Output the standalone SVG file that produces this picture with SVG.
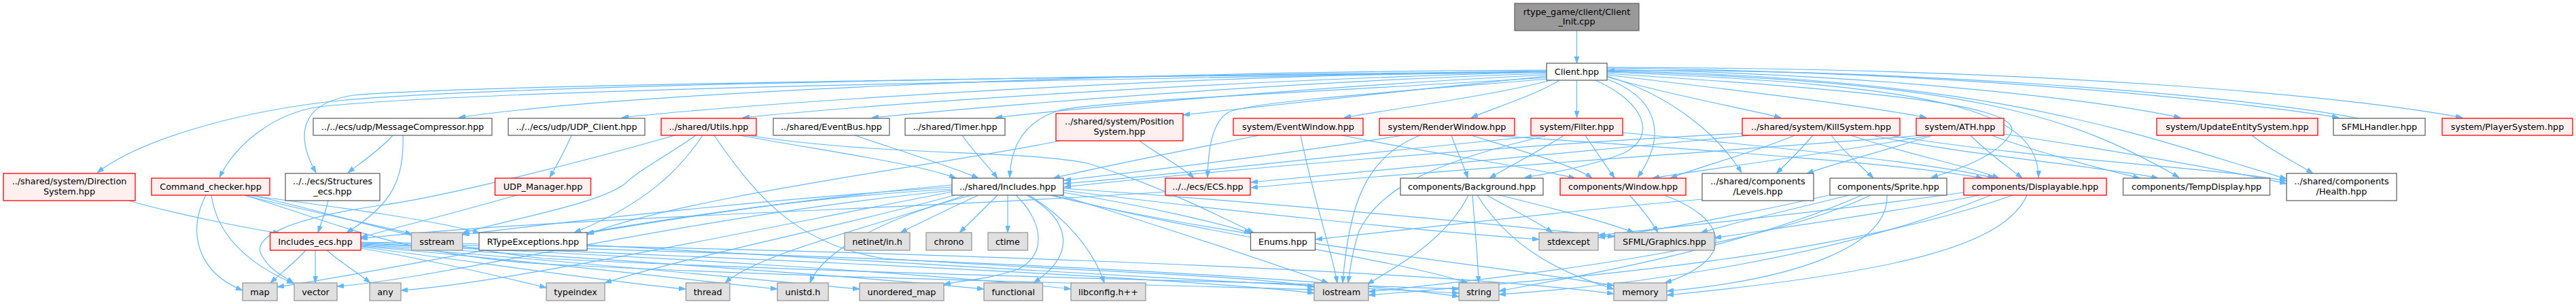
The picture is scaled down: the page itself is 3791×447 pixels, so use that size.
<svg xmlns="http://www.w3.org/2000/svg" width="3791" height="447" viewBox="0 0 3791 447">
<style>
.r{fill:#FFF0F0;stroke:#FF0000;stroke-width:1.3}
.w{fill:#FFFFFF;stroke:#666666;stroke-width:1.3}
.g{fill:#E0E0E0;stroke:#999999;stroke-width:1.3}
.k{fill:#999999;stroke:#666666;stroke-width:1.3}
text{font-family:"DejaVu Sans","Liberation Sans",sans-serif;font-size:12.8px;fill:#000;text-anchor:middle}
#edges path{fill:none;stroke:#63B8FF;stroke-width:1.2;marker-end:url(#ah)}
</style>
<defs>
<marker id="ah" viewBox="0 0 10 7" markerWidth="10" markerHeight="7" refX="10" refY="3.5" orient="auto" markerUnits="userSpaceOnUse">
<path d="M0,0 L10,3.5 L0,7 Z" fill="#63B8FF" stroke="#63B8FF" stroke-width="0.8"/>
</marker>
</defs>
<rect width="3791" height="447" fill="#FFFFFF"/>
<g id="edges">
<path d="M2320.5,45 L2320.5,93"/>
<path d="M2276,105 C1600,112 700,125 480,150 C330,168 200,210 143,254"/>
<path d="M2276,106 C1600,116 700,132 470,157 C400,167 345,215 323,261"/>
<path d="M2276,106 C1600,113 700,124 520,140 C440,152 435,200 465,254"/>
<path d="M2276,103 C1600,106 900,138 675,173"/>
<path d="M2276,104 C1700,112 1100,152 915,173"/>
<path d="M2276,106 C1800,118 1300,152 1093,173"/>
<path d="M2276,108 C1900,120 1500,152 1283,173"/>
<path d="M2276,110 C2000,124 1650,152 1465,173"/>
<path d="M2276,112 C2100,130 1900,152 1741,169"/>
<path d="M2276,114 C1950,135 1620,148 1560,162 C1500,180 1487,225 1486,261"/>
<path d="M2278,116 C2050,135 1840,150 1808,165 C1782,180 1778,225 1777,261"/>
<path d="M2282,118 C2200,140 2050,160 1978,173"/>
<path d="M2295,118 C2260,140 2200,158 2165,173"/>
<path d="M2320.5,118 L2320.5,173"/>
<path d="M2348,118 C2420,150 2440,200 2390,225 C2340,245 2280,255 2244,261"/>
<path d="M2364,116 C2430,140 2460,190 2410,261"/>
<path d="M2365,112 C2460,140 2530,200 2563,254"/>
<path d="M2365,108 C2700,130 2980,150 2960,195 C2940,230 2880,250 2842,261"/>
<path d="M2365,106 C2850,125 3000,160 3000,261"/>
<path d="M2365,113 C2450,138 2560,158 2621,173"/>
<path d="M2365,110 C2550,132 2750,156 2835,173"/>
<path d="M2365,105 C2900,120 3050,170 3207,261"/>
<path d="M2365,104 C2950,115 3150,200 3365,263"/>
<path d="M2365,102 C2800,110 3100,150 3209,173"/>
<path d="M2365,100 C2900,106 3300,150 3442,173"/>
<path d="M3471,174 C3300,140 2800,100 2366,104"/>
<path d="M2365,99 C3000,100 3450,140 3624,173"/>
<path d="M578,199 C560,220 530,240 512,254"/>
<path d="M593,199 C595,260 580,300 510,342"/>
<path d="M841,199 C830,225 818,245 809,261"/>
<path d="M760,287 C700,305 600,330 531,349"/>
<path d="M993,199 C850,240 650,290 560,302 C420,322 370,350 385,375 C395,395 415,405 432,416"/>
<path d="M1024,199 C980,230 940,250 920,270 C880,300 760,320 680,343"/>
<path d="M1034,199 C1000,250 950,300 845,342"/>
<path d="M1089,199 C1200,220 1350,240 1407,262"/>
<path d="M1051,199 C1120,300 1180,360 1300,380 C1600,400 1850,405 1934,422"/>
<path d="M1100,199 C1300,230 1500,220 1600,240 C1700,270 1800,320 1845,342"/>
<path d="M1258,199 C1320,220 1400,245 1440,262"/>
<path d="M1416,199 C1430,220 1455,245 1468,262"/>
<path d="M1677,207 C1700,225 1740,245 1757,262"/>
<path d="M1560,207 C1400,240 1000,290 864,345"/>
<path d="M1853,199 C1750,220 1620,245 1550,262"/>
<path d="M1975,199 C2100,225 2250,245 2318,262"/>
<path d="M1914,199 C1935,300 1960,370 1968,416"/>
<path d="M2065,199 C1900,225 1700,250 1566,265"/>
<path d="M2136,199 C2145,225 2155,245 2160,262"/>
<path d="M2165,199 C2250,225 2320,245 2343,262"/>
<path d="M2090,199 C2010,230 1985,300 1976,416"/>
<path d="M2192,199 C2500,220 2800,240 2918,262"/>
<path d="M2275,199 C2000,225 1750,255 1566,270"/>
<path d="M2302,199 C2260,225 2220,245 2192,262"/>
<path d="M2333,199 C2350,225 2365,245 2376,262"/>
<path d="M2278,199 C2100,240 2030,280 2000,340 C1990,370 1986,400 1984,416"/>
<path d="M2388,195 C2600,215 2850,240 2935,262"/>
<path d="M2565,196 C2200,215 1800,250 1566,275"/>
<path d="M2575,199 C2300,225 2000,255 1841,268"/>
<path d="M2641,199 C2580,225 2500,245 2458,262"/>
<path d="M2668,199 C2650,220 2630,240 2614,255"/>
<path d="M2695,199 C2715,225 2740,245 2757,262"/>
<path d="M2724,199 C2800,225 2900,245 2942,262"/>
<path d="M2755,199 C2900,230 3100,245 3176,262"/>
<path d="M2780,199 C3000,235 3250,245 3365,266"/>
<path d="M2844,199 C2780,220 2700,240 2659,255"/>
<path d="M2840,199 C2700,225 2500,250 2432,262"/>
<path d="M2830,199 C2500,225 2050,255 1841,276"/>
<path d="M2900,199 C2925,225 2955,245 2976,262"/>
<path d="M2931,199 C3000,225 3100,250 3149,262"/>
<path d="M2949,197 C3100,220 3250,245 3365,270"/>
<path d="M3314,199 C3340,220 3380,240 3404,255"/>
<path d="M189,295 C260,315 360,335 412,343"/>
<path d="M303,287 C275,340 290,400 357,427"/>
<path d="M311,287 C320,350 370,390 432,417"/>
<path d="M359,287 C450,310 550,330 606,344"/>
<path d="M365,287 C500,305 650,325 706,343"/>
<path d="M360,287 C500,330 580,370 780,387 C1200,410 1700,418 1934,426"/>
<path d="M370,287 C520,320 620,360 800,380 C1300,405 1900,415 2147,425"/>
<path d="M483,295 C478,315 472,330 468,342"/>
<path d="M1440,287 C1400,305 1360,325 1325,342"/>
<path d="M1468,287 C1450,305 1430,325 1412,342"/>
<path d="M1483,287 L1483,342"/>
<path d="M1495,287 C1530,320 1545,370 1500,395 C1460,410 1420,412 1389,418"/>
<path d="M1511,287 C1570,320 1590,370 1521,416"/>
<path d="M1514,287 C1570,320 1610,370 1625,416"/>
<path d="M1401,272 C1200,290 1000,320 864,343"/>
<path d="M1401,275 C1100,295 800,330 681,345"/>
<path d="M1401,278 C1000,300 600,395 408,422"/>
<path d="M1401,280 C1000,320 650,410 496,421"/>
<path d="M1401,282 C1100,340 750,415 590,427"/>
<path d="M1405,287 C1250,330 1000,380 890,416"/>
<path d="M1420,287 C1300,330 1120,370 1067,416"/>
<path d="M1430,287 C1300,320 1210,370 1192,416"/>
<path d="M1565,283 C1700,305 1800,330 1841,343"/>
<path d="M1560,287 C1700,330 1850,380 1955,416"/>
<path d="M1550,287 C1750,340 2050,380 2160,416"/>
<path d="M1545,287 C1800,350 2200,390 2375,420"/>
<path d="M1565,280 C1800,310 2100,340 2265,352"/>
<path d="M1565,277 C1900,300 2200,330 2376,348"/>
<path d="M1715,282 C1400,305 800,320 531,351"/>
<path d="M2161,287 C2130,350 2060,390 2012,418"/>
<path d="M2167,287 C2170,330 2175,380 2176,416"/>
<path d="M2174,287 C2220,360 2290,400 2375,425"/>
<path d="M2188,287 C2220,305 2260,325 2285,342"/>
<path d="M2207,287 C2280,305 2360,325 2405,342"/>
<path d="M2398,287 C2415,305 2430,325 2440,342"/>
<path d="M2449,287 C2540,320 2560,380 2450,416"/>
<path d="M2505,293 C2300,310 2100,335 1936,352"/>
<path d="M2721,287 C2650,305 2560,325 2503,342"/>
<path d="M2777,287 C2780,360 2650,410 2453,428"/>
<path d="M2753,287 C2600,360 2300,400 2014,429"/>
<path d="M2740,287 C2550,370 2300,410 2206,428"/>
<path d="M2700,285 C2550,320 2400,345 2352,349"/>
<path d="M2913,287 C2800,310 2620,335 2523,350"/>
<path d="M2983,287 C2950,360 2800,400 2453,434"/>
<path d="M2962,287 C2700,380 2300,410 2014,434"/>
<path d="M2930,287 C2700,380 2400,420 2206,433"/>
<path d="M2890,283 C2700,310 2450,335 2352,346"/>
<path d="M864,360 C1200,380 1700,410 2147,431"/>
<path d="M450,368 C435,385 415,400 398,416"/>
<path d="M464,368 L464,416"/>
<path d="M481,368 C500,385 525,400 545,416"/>
<path d="M531,365 C650,385 750,410 804,423"/>
<path d="M531,363 C700,385 900,415 1009,425"/>
<path d="M531,362 C800,385 1000,410 1144,425"/>
<path d="M531,361 C800,380 1100,410 1265,425"/>
<path d="M531,360 C900,380 1300,410 1448,425"/>
<path d="M531,359 C950,375 1400,405 1576,425"/>
<path d="M531,358 C1000,375 1700,405 1934,431"/>
<path d="M531,357 C1100,370 1900,400 2147,436"/>
<path d="M531,356 C1200,365 2100,395 2375,432"/>
</g>
<g id="n_root"><rect class="k" x="2229" y="5" width="183" height="40"/><text x="2320.5" y="21.5">rtype_game/client/Client</text><text x="2320.5" y="36">_Init.cpp</text></g>
<g id="n_client"><rect class="w" x="2276" y="93" width="89" height="25"/><text x="2320.5" y="110">Client.hpp</text></g>
<g id="n_msgcomp"><rect class="w" x="461" y="174" width="263" height="25"/><text x="592.5" y="191">../../ecs/udp/MessageCompressor.hpp</text></g>
<g id="n_udpclient"><rect class="w" x="748" y="174" width="201" height="25"/><text x="848.5" y="191">../../ecs/udp/UDP_Client.hpp</text></g>
<g id="n_utils"><rect class="r" x="973" y="174" width="140" height="25"/><text x="1043" y="191">../shared/Utils.hpp</text></g>
<g id="n_eventbus"><rect class="w" x="1138" y="174" width="171" height="25"/><text x="1223.5" y="191">../shared/EventBus.hpp</text></g>
<g id="n_timer"><rect class="w" x="1332" y="174" width="147" height="25"/><text x="1405.5" y="191">../shared/Timer.hpp</text></g>
<g id="n_position"><rect class="r" x="1554" y="167" width="187" height="40"/><text x="1647.5" y="183">../shared/system/Position</text><text x="1647.5" y="197.5">System.hpp</text></g>
<g id="n_eventwindow"><rect class="r" x="1815" y="174" width="191" height="25"/><text x="1910.5" y="191">system/EventWindow.hpp</text></g>
<g id="n_renderwindow"><rect class="r" x="2030" y="174" width="199" height="25"/><text x="2129.5" y="191">system/RenderWindow.hpp</text></g>
<g id="n_filter"><rect class="r" x="2253" y="174" width="135" height="25"/><text x="2320.5" y="191">system/Filter.hpp</text></g>
<g id="n_kill"><rect class="r" x="2564" y="174" width="232" height="25"/><text x="2680" y="191">../shared/system/KillSystem.hpp</text></g>
<g id="n_ath"><rect class="r" x="2820" y="174" width="129" height="25"/><text x="2884.5" y="191">system/ATH.hpp</text></g>
<g id="n_update"><rect class="r" x="3174" y="174" width="237" height="25"/><text x="3292.5" y="191">system/UpdateEntitySystem.hpp</text></g>
<g id="n_sfmlhandler"><rect class="w" x="3434" y="174" width="135" height="25"/><text x="3501.5" y="191">SFMLHandler.hpp</text></g>
<g id="n_player"><rect class="r" x="3594" y="174" width="192" height="25"/><text x="3690" y="191">system/PlayerSystem.hpp</text></g>
<g id="n_direction"><rect class="r" x="5" y="255" width="194" height="40"/><text x="102" y="271">../shared/system/Direction</text><text x="102" y="285.5">System.hpp</text></g>
<g id="n_command"><rect class="r" x="223" y="262" width="174" height="25"/><text x="310" y="279">Command_checker.hpp</text></g>
<g id="n_structures"><rect class="w" x="420" y="255" width="139" height="40"/><text x="489.5" y="271">../../ecs/Structures</text><text x="489.5" y="285.5">_ecs.hpp</text></g>
<g id="n_udpmanager"><rect class="r" x="728.5" y="262" width="141" height="25"/><text x="799" y="279">UDP_Manager.hpp</text></g>
<g id="n_includes"><rect class="w" x="1401" y="262" width="164" height="25"/><text x="1483" y="279">../shared/Includes.hpp</text></g>
<g id="n_ecs"><rect class="r" x="1715" y="262" width="125" height="25"/><text x="1777.5" y="279">../../ecs/ECS.hpp</text></g>
<g id="n_background"><rect class="w" x="2061" y="262" width="210" height="25"/><text x="2166" y="279">components/Background.hpp</text></g>
<g id="n_window"><rect class="r" x="2296" y="262" width="185" height="25"/><text x="2388.5" y="279">components/Window.hpp</text></g>
<g id="n_levels"><rect class="w" x="2505" y="255" width="164" height="40"/><text x="2587" y="271">../shared/components</text><text x="2587" y="285.5">/Levels.hpp</text></g>
<g id="n_sprite"><rect class="w" x="2693" y="262" width="172" height="25"/><text x="2779" y="279">components/Sprite.hpp</text></g>
<g id="n_displayable"><rect class="r" x="2890" y="262" width="210" height="25"/><text x="2995" y="279">components/Displayable.hpp</text></g>
<g id="n_tempdisplay"><rect class="w" x="3124.5" y="262" width="216" height="25"/><text x="3232.5" y="279">components/TempDisplay.hpp</text></g>
<g id="n_health"><rect class="w" x="3365" y="255" width="162" height="40"/><text x="3446" y="271">../shared/components</text><text x="3446" y="285.5">/Health.hpp</text></g>
<g id="n_includes_ecs"><rect class="r" x="397.5" y="342" width="133.5" height="26"/><text x="464" y="359.5">Includes_ecs.hpp</text></g>
<g id="n_sstream"><rect class="g" x="605.5" y="342" width="75" height="26"/><text x="643" y="359.5">sstream</text></g>
<g id="n_rtypeexc"><rect class="w" x="705" y="342" width="159" height="26"/><text x="784.5" y="359.5">RTypeExceptions.hpp</text></g>
<g id="n_netinet"><rect class="g" x="1243" y="342" width="96" height="26"/><text x="1291" y="359.5">netinet/in.h</text></g>
<g id="n_chrono"><rect class="g" x="1363" y="342" width="67" height="26"/><text x="1396.5" y="359.5">chrono</text></g>
<g id="n_ctime"><rect class="g" x="1454" y="342" width="58.5" height="26"/><text x="1483" y="359.5">ctime</text></g>
<g id="n_enums"><rect class="w" x="1840.5" y="342" width="95" height="26"/><text x="1888" y="359.5">Enums.hpp</text></g>
<g id="n_stdexcept"><rect class="g" x="2265" y="342" width="87" height="26"/><text x="2308.5" y="359.5">stdexcept</text></g>
<g id="n_sfmlgraphics"><rect class="g" x="2376" y="342" width="147" height="26"/><text x="2449.5" y="359.5">SFML/Graphics.hpp</text></g>
<g id="n_map"><rect class="g" x="357" y="416" width="51" height="26"/><text x="382.5" y="433.5">map</text></g>
<g id="n_vector"><rect class="g" x="433" y="416" width="63" height="26"/><text x="464.5" y="433.5">vector</text></g>
<g id="n_any"><rect class="g" x="544" y="416" width="46" height="26"/><text x="567" y="433.5">any</text></g>
<g id="n_typeindex"><rect class="g" x="804" y="416" width="86" height="26"/><text x="847" y="433.5">typeindex</text></g>
<g id="n_thread"><rect class="g" x="1009.5" y="416" width="64.5" height="26"/><text x="1041.75" y="433.5">thread</text></g>
<g id="n_unistd"><rect class="g" x="1144" y="416" width="75" height="26"/><text x="1181.5" y="433.5">unistd.h</text></g>
<g id="n_unordered_map"><rect class="g" x="1265" y="416" width="124" height="26"/><text x="1327" y="433.5">unordered_map</text></g>
<g id="n_functional"><rect class="g" x="1448" y="416" width="86.5" height="26"/><text x="1491.25" y="433.5">functional</text></g>
<g id="n_libconfig"><rect class="g" x="1576" y="416" width="110" height="26"/><text x="1631" y="433.5">libconfig.h++</text></g>
<g id="n_iostream"><rect class="g" x="1934" y="416" width="80" height="26"/><text x="1974" y="433.5">iostream</text></g>
<g id="n_string"><rect class="g" x="2147" y="416" width="59" height="26"/><text x="2176.5" y="433.5">string</text></g>
<g id="n_memory"><rect class="g" x="2375" y="416" width="78" height="26"/><text x="2414" y="433.5">memory</text></g>
</svg>
